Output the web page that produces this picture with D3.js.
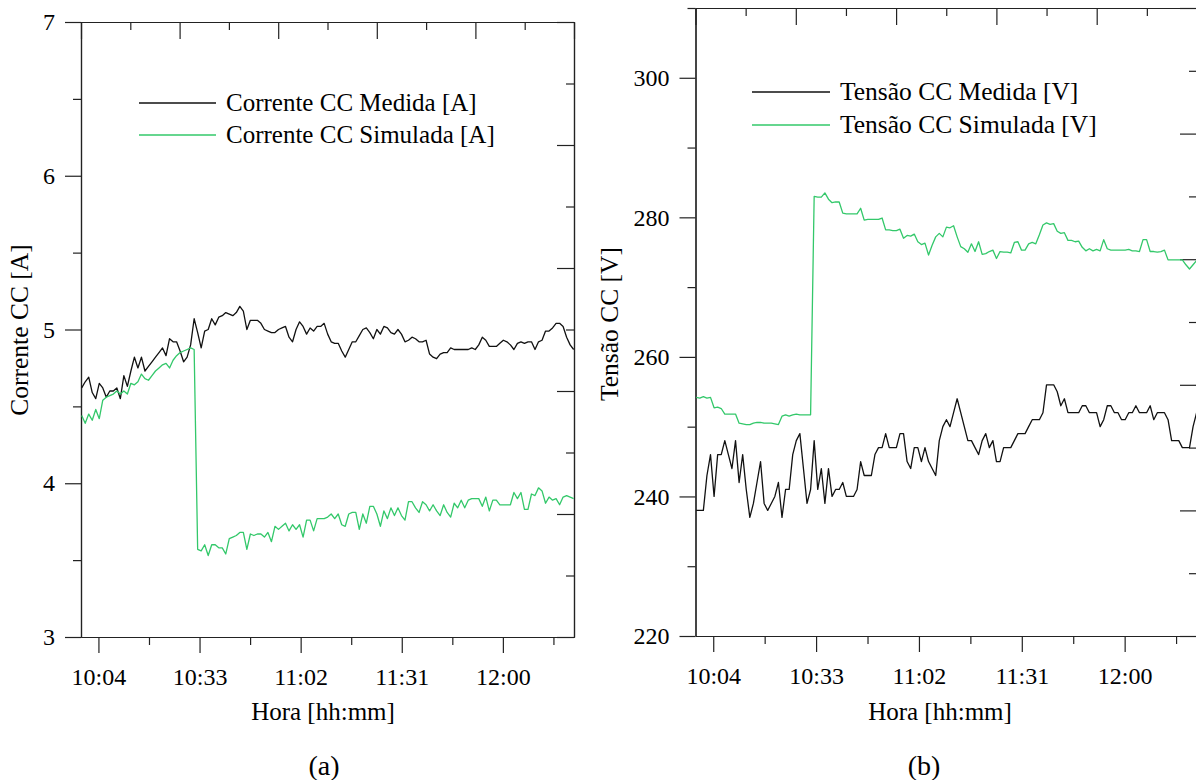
<!DOCTYPE html>
<html>
<head>
<meta charset="utf-8">
<script src="https://cdn.jsdelivr.net/npm/d3@7"></script>
<style>
  body { margin: 0; background: #fff; }
  svg { display: block; }
</style>
</head>
<body>
<div id="chart"></div>
<script>
const width = 1196;
const height = 780;
const FONT = "'Liberation Serif', 'Times New Roman', serif";
const AXIS_COLOR = "#222";
const BLACK = "#111";
const GREEN = "#33c86a";

// time axis, minutes since midnight
const X_DOMAIN = [599, 740.4];
const T_START = 599.2, T_END = 740.3;   // first / last sample
const timeMajor = [604, 633, 662, 691, 720];
const timeMinor = [618.5, 647.5, 676.5, 705.5, 734.5];

// unlabelled secondary axes (top / right), 10 divisions
const auxMajor = [0, 2, 4, 6, 8, 10];
const auxMinor = [1, 3, 5, 7, 9];

// (a) current
const currentDomain = [3, 7];
const currentMajor = [3, 4, 5, 6, 7];
const currentMinor = [3.5, 4.5, 5.5, 6.5];
const currentMeasured = [
  4.62, 4.66, 4.69, 4.59, 4.55, 4.65, 4.62, 4.56, 4.60, 4.60,
  4.62, 4.55, 4.70, 4.63, 4.73, 4.82, 4.75, 4.82, 4.73, 4.76,
  4.79, 4.82, 4.85, 4.88, 4.83, 4.94, 4.92, 4.92, 4.86, 4.79,
  4.82, 4.90, 5.07, 4.98, 4.88, 4.99, 5.00, 5.07, 5.03, 5.08,
  5.09, 5.11, 5.10, 5.09, 5.11, 5.15, 5.12, 5.00, 5.06, 5.06,
  5.06, 5.04, 5.00, 4.99, 4.98, 4.98, 5.00, 5.01, 5.02, 4.95,
  4.92, 5.00, 5.05, 5.02, 4.97, 5.01, 4.99, 5.02, 5.02, 5.04,
  4.97, 4.92, 4.91,
  4.91, 4.86, 4.82, 4.87, 4.92, 4.92, 4.96, 5.00, 5.01, 4.98,
  4.94, 5.00, 4.97, 5.02, 5.01, 4.98, 4.97, 5.00, 4.97, 4.92,
  4.93, 4.95, 4.94, 4.92, 4.92, 4.93, 4.84, 4.82, 4.81, 4.84,
  4.85, 4.85, 4.88, 4.87, 4.87, 4.87, 4.87, 4.87, 4.88, 4.87, 4.90,
  4.95, 4.93, 4.89, 4.89, 4.89, 4.91, 4.93, 4.92, 4.90, 4.87,
  4.91, 4.92, 4.91, 4.92, 4.92, 4.87, 4.92, 4.93, 4.99, 4.99,
  5.01, 5.04, 5.04, 5.02, 4.95, 4.90, 4.87
];
const currentSimulated = [
  4.44, 4.39, 4.45, 4.41, 4.48, 4.42, 4.54, 4.56, 4.57, 4.58,
  4.60, 4.58, 4.60, 4.58, 4.65, 4.64, 4.66, 4.71, 4.68, 4.67,
  4.70, 4.73, 4.75, 4.77, 4.78, 4.75, 4.80, 4.83, 4.85, 4.86,
  4.87, 4.88, 4.87,
  3.57, 3.56, 3.60, 3.53, 3.60, 3.60, 3.58, 3.58, 3.54, 3.64,
  3.65, 3.66, 3.68, 3.68, 3.57, 3.67, 3.66, 3.67, 3.67, 3.65,
  3.68, 3.62, 3.72, 3.70, 3.72, 3.74, 3.69, 3.73, 3.70, 3.73,
  3.65, 3.76, 3.76, 3.69, 3.77, 3.77, 3.77, 3.78, 3.80, 3.77,
  3.80, 3.73, 3.72, 3.80, 3.81, 3.81, 3.70, 3.80, 3.74, 3.85,
  3.85, 3.80, 3.72, 3.82, 3.77, 3.84, 3.79, 3.84, 3.79, 3.76,
  3.88, 3.88, 3.84, 3.81, 3.88, 3.86, 3.82, 3.86, 3.82, 3.79,
  3.86, 3.81, 3.78, 3.87, 3.84, 3.89, 3.84, 3.89, 3.90, 3.90,
  3.90, 3.85, 3.91, 3.82, 3.89, 3.89, 3.86, 3.86, 3.86, 3.86,
  3.94, 3.90, 3.94, 3.83, 3.83, 3.93, 3.92, 3.97, 3.95, 3.87,
  3.91, 3.89, 3.90, 3.86, 3.91, 3.92, 3.91, 3.90
];

// (b) voltage
const voltageDomain = [220, 310];
const voltageMajor = [220, 240, 260, 280, 300];
const voltageMinor = [230, 250, 270, 290, 310];
const voltageMeasured = [
  238, 238, 238, 243, 246, 240, 246, 246, 248, 246,
  244, 248, 242, 246, 241, 237, 239, 242, 245, 239,
  238, 239, 240, 242, 237, 241, 241, 246, 248, 249,
  244, 239, 241, 248, 241, 244, 239, 244, 240, 241,
  241, 242, 240, 240, 240, 241, 245, 243, 243, 243,
  246, 247, 247, 249, 247, 247, 247, 249, 249, 245,
  244, 247, 247, 245, 247, 245, 244, 243, 248, 250,
  251, 250, 252, 254, 252, 250, 248, 248, 247, 246,
  248, 249, 247, 248, 245, 245, 247, 247, 247, 248,
  249, 249, 249, 250, 251, 251, 251, 252, 256, 256,
  256, 255, 253, 254, 252, 252, 252, 252, 253, 253,
  252, 252, 252, 250, 251, 253, 253, 252, 252, 251,
  251, 252, 252, 253, 252, 252, 252, 253, 251, 252,
  252, 252, 251, 248, 248, 248, 247, 247, 247, 250,
  252
];
const voltageSimulated = [
  254.2, 254.1, 254.3, 254.1, 254.2, 252.7, 252.8, 252.6, 251.8, 251.8,
  251.8, 251.8, 250.5, 250.4, 250.3, 250.3, 250.5, 250.6, 250.6, 250.5,
  250.5, 250.5, 250.4, 250.3, 251.5, 251.7, 251.5, 251.7, 251.8, 251.7,
  251.7, 251.7, 251.7,
  283.0, 282.9, 282.9, 283.5, 282.6, 282.1, 282.2, 282.2, 280.6, 280.5,
  280.5, 280.5, 280.5, 281.3, 279.6, 279.7, 279.7, 279.7, 279.7, 279.9,
  278.2, 278.2, 278.1, 278.1, 278.3, 277.0, 277.4, 277.3, 277.6, 276.5,
  276.1, 276.3, 274.6, 276.0, 277.2, 277.7, 277.2, 278.6, 278.5, 278.8,
  277.2, 275.8, 275.5, 275.0, 276.2, 275.1, 276.5, 274.7, 274.8, 275.1,
  275.3, 274.1, 275.1, 275.0, 275.0, 274.9, 276.4, 276.5, 275.3, 275.3,
  276.2, 276.4, 276.2, 277.5, 278.9, 279.2, 279.0, 279.1, 278.0, 277.7,
  277.8, 276.7, 276.7, 276.5, 276.6, 275.7, 275.2, 275.5, 275.2, 275.4,
  275.2, 276.8, 275.5, 275.3, 275.3, 275.3, 275.3, 275.3, 275.4, 275.2,
  275.2, 275.1, 276.8, 276.8, 275.1, 275.1, 275.0, 275.1, 275.3, 273.9,
  273.9, 273.9, 273.9, 273.9, 273.2, 272.6, 273.2, 273.8
];

const fmtTime = m => Math.floor(m / 60) + ":" + String(Math.round(m % 60)).padStart(2, "0");

const svg = d3.select("#chart")
  .append("svg")
    .attr("width", width)
    .attr("height", height)
    .style("background-color", "#fff")
    .style("font-family", FONT);

function styleAxis(sel) {
  sel.attr("font-family", FONT).attr("font-size", 24);
  sel.select(".domain").attr("stroke", AXIS_COLOR).attr("stroke-width", 1.2);
  sel.selectAll(".tick line").attr("stroke", AXIS_COLOR).attr("stroke-width", 1.2);
  sel.selectAll(".tick text").attr("fill", "#000");
}

function drawPanel(p) {
  const x = d3.scaleLinear().domain(X_DOMAIN).range([p.left, p.right]);
  const y = d3.scaleLinear().domain(p.yDomain).range([p.bottom, p.top]);
  const auxX = d3.scaleLinear().domain([0, 10]).range([p.left, p.right]);
  const auxY = d3.scaleLinear().domain([0, 10]).range([p.bottom, p.top]);
  const g = svg.append("g");

  /// bottom time axis
  g.append("g").attr("transform", `translate(0,${p.bottom})`)
    .call(d3.axisBottom(x).tickValues(timeMajor).tickFormat(fmtTime)
      .tickSize(16).tickSizeOuter(0).tickPadding(15))
    .call(styleAxis);
  g.append("g").attr("transform", `translate(0,${p.bottom})`)
    .call(d3.axisBottom(x).tickValues(timeMinor).tickFormat("").tickSize(8).tickSizeOuter(0))
    .call(styleAxis);

  /// left value axis
  g.append("g").attr("transform", `translate(${p.left},0)`)
    .call(d3.axisLeft(y).tickValues(p.major).tickFormat(d3.format("d"))
      .tickSize(16).tickSizeOuter(0).tickPadding(10))
    .call(styleAxis);
  g.append("g").attr("transform", `translate(${p.left},0)`)
    .call(d3.axisLeft(y).tickValues(p.minor).tickFormat("").tickSize(8).tickSizeOuter(0))
    .call(styleAxis);

  /// top and right frame with inward ticks
  g.append("g").attr("transform", `translate(0,${p.top})`)
    .call(d3.axisTop(auxX).tickValues(auxMajor).tickFormat("").tickSize(-17).tickSizeOuter(0))
    .call(styleAxis);
  g.append("g").attr("transform", `translate(0,${p.top})`)
    .call(d3.axisTop(auxX).tickValues(auxMinor).tickFormat("").tickSize(-8).tickSizeOuter(0))
    .call(styleAxis);
  g.append("g").attr("transform", `translate(${p.right},0)`)
    .call(d3.axisRight(auxY).tickValues(auxMajor).tickFormat("").tickSize(-17).tickSizeOuter(0))
    .call(styleAxis);
  g.append("g").attr("transform", `translate(${p.right},0)`)
    .call(d3.axisRight(auxY).tickValues(auxMinor).tickFormat("").tickSize(-8).tickSizeOuter(0))
    .call(styleAxis);

  /// series
  p.series.forEach(s => {
    const step = (T_END - T_START) / (s.values.length - 1);
    const line = d3.line()
      .x((d, i) => x(T_START + i * step))
      .y(d => y(d));
    g.append("path")
      .datum(s.values)
      .attr("fill", "none")
      .attr("stroke", s.color)
      .attr("stroke-width", 1.3)
      .attr("stroke-linejoin", "round")
      .attr("d", line);
  });

  /// legend
  const legend = g.selectAll(".legend")
    .data(p.series)
    .join("g")
      .attr("transform", (d, i) => `translate(0,${p.legendY + i * p.legendStep})`);
  legend.append("line")
    .attr("x1", p.legendX[0]).attr("x2", p.legendX[1])
    .attr("stroke", d => d.color)
    .attr("stroke-width", 1.3);
  legend.append("text")
    .attr("x", p.legendX[2])
    .attr("dy", "0.33em")
    .attr("font-size", p.legendFont)
    .text(d => d.label);

  /// titles
  g.append("text")
    .attr("transform", `translate(${p.yLabelX},${p.yLabelY}) rotate(-90)`)
    .attr("text-anchor", "middle")
    .attr("font-size", 25.5)
    .text(p.yLabel);
  g.append("text")
    .attr("x", p.xLabelX).attr("y", 720)
    .attr("text-anchor", "middle")
    .attr("font-size", 25)
    .text("Hora [hh:mm]");
  g.append("text")
    .attr("x", p.captionX).attr("y", 775)
    .attr("text-anchor", "middle")
    .attr("font-size", 28)
    .text(p.caption);
}

drawPanel({
  left: 81, right: 574, top: 22, bottom: 637,
  yDomain: currentDomain, major: currentMajor, minor: currentMinor,
  series: [
    { label: "Corrente CC Medida [A]", color: BLACK, values: currentMeasured },
    { label: "Corrente CC Simulada [A]", color: GREEN, values: currentSimulated }
  ],
  legendX: [139, 216, 226], legendY: 103, legendStep: 32, legendFont: 25,
  yLabel: "Corrente CC [A]", yLabelX: 28, yLabelY: 330,
  xLabelX: 323, caption: "(a)", captionX: 324
});

drawPanel({
  left: 695.5, right: 1197, top: 8, bottom: 636,
  yDomain: voltageDomain, major: voltageMajor, minor: voltageMinor,
  series: [
    { label: "Tensão CC Medida [V]", color: BLACK, values: voltageMeasured },
    { label: "Tensão CC Simulada [V]", color: GREEN, values: voltageSimulated }
  ],
  legendX: [752, 830, 840], legendY: 92, legendStep: 33, legendFont: 25.5,
  yLabel: "Tensão CC [V]", yLabelX: 618, yLabelY: 324,
  xLabelX: 940, caption: "(b)", captionX: 924
});
</script>
</body>
</html>
